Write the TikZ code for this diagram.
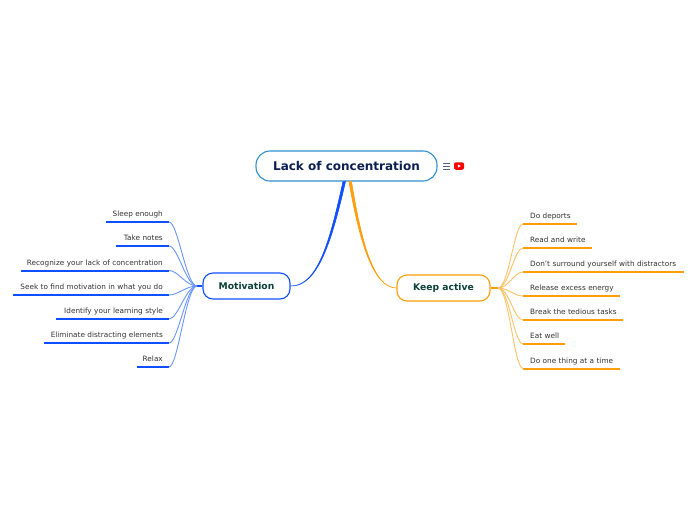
\documentclass[tikz,border=0pt]{standalone}
\usepackage{fontspec}
\setmainfont{DejaVu Sans}
\definecolor{rootline}{HTML}{2F8FCF}
\definecolor{roottext}{HTML}{0B1F52}
\definecolor{branchtext}{HTML}{0B4038}
\definecolor{leaftext}{HTML}{333333}
\definecolor{blueline}{HTML}{0F4FFF}
\definecolor{bluetwig}{HTML}{6B96FF}
\definecolor{orangeline}{HTML}{FF9D0A}
\definecolor{orangetwig}{HTML}{FFC266}
\tikzset{
block/.style={rectangle, draw, fill=white, text centered, rounded corners=10pt, line width=1.1pt, text=branchtext, font=\fontsize{9.2}{11}\selectfont\bfseries},
rootblock/.style={block, draw=rootline, text=roottext, minimum width=181pt, minimum height=30pt, rounded corners=14pt, font=\fontsize{12}{14}\selectfont\bfseries},
leaf/.style={inner xsep=0pt, inner ysep=0pt, text width=#1, text height=7pt, text depth=5pt, text=leaftext, font=\fontsize{7.3}{9}\selectfont},
leftleaf/.style={leaf=#1, anchor=south east, align=right, execute at end node=\hspace*{6pt},
  append after command={(\tikzlastnode.south west) edge [draw=blueline, line width=2pt] (\tikzlastnode.south east)}},
rightleaf/.style={leaf=#1, anchor=south west, align=left, execute at begin node=\hspace*{7pt},
  append after command={(\tikzlastnode.south west) edge [draw=orangeline, line width=2pt] (\tikzlastnode.south east)}},
lefttwig/.style={draw=bluetwig, line width=0.9pt, out=180, in=0, out max distance=11pt, in max distance=9pt},
righttwig/.style={draw=orangetwig, line width=0.9pt, out=0, in=180, out max distance=11pt, in max distance=9pt}
}

\begin{document}
\begin{tikzpicture}[x=1pt, y=-1pt]
    \path [use as bounding box, fill=white] (0,0) rectangle (696,520);
    % Place nodes
    \node [rootblock] (root) at (346.5,166) {Lack of concentration};
    \node [block, draw=blueline, minimum width=87pt, minimum height=26pt] (motivation) at (246.5,286) {Motivation};
    \node [block, draw=orangeline, minimum width=93pt, minimum height=26pt] (keepactive) at (443.5,288) {Keep active};
    \coordinate [left of=motivation, node distance=49.5pt] (motivationhub);
    \coordinate [right of=keepactive, node distance=54.5pt] (keepactivehub);
    % Left leaves
    \node [leftleaf=63pt] (sleep) at (169,222) {Sleep enough};
    \node [leftleaf=53pt] (notes) at (169,246) {Take notes};
    \node [leftleaf=148pt] (recognize) at (169,270.5) {Recognize your lack of concentration};
    \node [leftleaf=156pt] (seek) at (169,295) {Seek to find motivation in what you do};
    \node [leftleaf=113pt] (identify) at (169,319) {Identify your learning style};
    \node [leftleaf=125pt] (eliminate) at (169,343) {Eliminate distracting elements};
    \node [leftleaf=32pt] (relax) at (169,367) {Relax};
    % Right leaves
    \node [rightleaf=54pt] (deports) at (523,224) {Do deports};
    \node [rightleaf=69pt] (readwrite) at (523,248) {Read and write};
    \node [rightleaf=161pt] (surround) at (523,272) {Don't surround yourself with distractors};
    \node [rightleaf=97pt] (release) at (523,296) {Release excess energy};
    \node [rightleaf=100pt] (tedious) at (523,320) {Break the tedious tasks};
    \node [rightleaf=42pt] (eatwell) at (523,344) {Eat well};
    \node [rightleaf=97pt] (onething) at (523,368.5) {Do one thing at a time};
    % Icons
    \node [fill=red, rounded corners=2pt, minimum width=10pt, minimum height=7.5pt, inner sep=0pt] (video) at (459,166) {};
    \fill [white] ([xshift=-1.2pt,yshift=1.6pt]video.center) -- ([xshift=1.8pt]video.center) -- ([xshift=-1.2pt,yshift=-1.6pt]video.center) -- cycle;
    \draw [draw=roottext!70, line width=0.7pt] (443,163) -- (450,163) (443,166) -- (450,166) (443,169) -- (450,169);
    % Draw edges
    \filldraw [blueline, line width=0.6pt] ([xshift=-3.5pt]root.south) .. controls (330,240) and (318,286.5) .. (motivation.east) .. controls (318,287) and (332,240) .. ([xshift=-1pt]root.south) -- cycle;
    \filldraw [orangeline, line width=0.6pt] ([xshift=2.5pt]root.south) .. controls (359,240) and (373,288) .. (keepactive.west) .. controls (373,288) and (361,240) .. ([xshift=5pt]root.south) -- cycle;
    \draw [blueline, line width=1.3pt] (motivation.west) -- (motivationhub);
    \draw [orangeline, line width=1.3pt] (keepactive.east) -- (keepactivehub);
    \path [lefttwig] (motivationhub) to (sleep.south east);
    \path [lefttwig] (motivationhub) to (notes.south east);
    \path [lefttwig] (motivationhub) to (recognize.south east);
    \path [lefttwig] (motivationhub) to (seek.south east);
    \path [lefttwig] (motivationhub) to (identify.south east);
    \path [lefttwig] (motivationhub) to (eliminate.south east);
    \path [lefttwig] (motivationhub) to (relax.south east);
    \path [righttwig] (keepactivehub) to (deports.south west);
    \path [righttwig] (keepactivehub) to (readwrite.south west);
    \path [righttwig] (keepactivehub) to (surround.south west);
    \path [righttwig] (keepactivehub) to (release.south west);
    \path [righttwig] (keepactivehub) to (tedious.south west);
    \path [righttwig] (keepactivehub) to (eatwell.south west);
    \path [righttwig] (keepactivehub) to (onething.south west);
\end{tikzpicture}
\end{document}
